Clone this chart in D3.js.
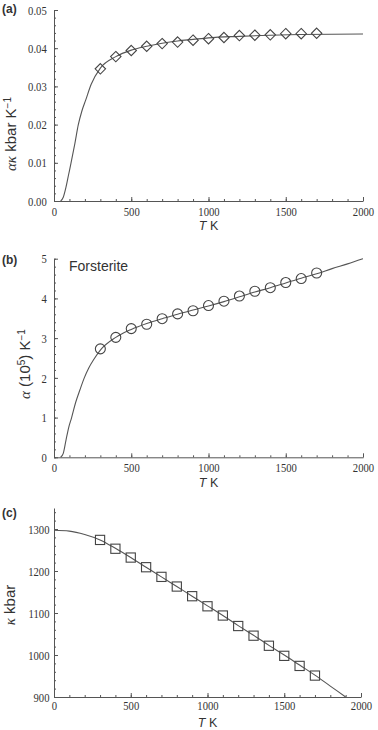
<!DOCTYPE html>
<html lang="en">
<head>
    <meta charset="UTF-8">
    <title>Forsterite</title>
    <script src="https://d3js.org/d3.v7.min.js"></script>
    <style>
        body {
            margin: 0;
            padding: 0;
            background: #fff;
        }
        .lbl {
            font-family: "Liberation Sans", Arial, sans-serif;
            fill: #333;
        }
    </style>
</head>
<body>
<div id="chart"></div>
<script>
    // measured temperatures (K)
    const tPoints = [300, 400, 500, 600, 700, 800, 900, 1000, 1100, 1200, 1300, 1400, 1500, 1600, 1700];

    // (a) alpha*kappa, kbar/K
    const akPoints = [0.0346, 0.0378, 0.0394, 0.0405, 0.0412, 0.0416, 0.0421, 0.0425, 0.0428, 0.0433, 0.0434, 0.0435, 0.0438, 0.0438, 0.0439];
    const akCurveT = [43, 60, 78, 95, 110, 135, 157, 180, 205, 240, 300, 400, 500, 600, 700, 800, 900, 1000, 1200, 1400, 1600, 2000];
    const akCurve = [0, 0.001, 0.0037, 0.007, 0.0099, 0.015, 0.0199, 0.0235, 0.0264, 0.0305, 0.0348, 0.0378, 0.0395, 0.0405, 0.0413, 0.0419, 0.0423, 0.0427, 0.0431, 0.0434, 0.0436, 0.0437];

    // (b) alpha (10^5) 1/K
    const alphaPoints = [2.73, 3.02, 3.24, 3.35, 3.49, 3.61, 3.69, 3.82, 3.93, 4.06, 4.18, 4.27, 4.40, 4.50, 4.64];
    const alphaCurveT = [43, 60, 78, 95, 114, 140, 168, 196, 225, 255, 300, 400, 500, 600, 700, 800, 900, 1000, 1100, 1200, 1300, 1400, 1500, 1600, 1700, 1800, 1900, 2000];
    const alphaCurve = [0, 0.1, 0.44, 0.75, 1.0, 1.38, 1.70, 2.0, 2.25, 2.45, 2.7, 3.02, 3.22, 3.37, 3.49, 3.60, 3.71, 3.81, 3.92, 4.04, 4.16, 4.27, 4.39, 4.51, 4.62, 4.75, 4.87, 5.0];

    // (c) kappa, kbar
    const kappaPoints = [1274, 1253, 1232, 1209, 1186, 1163, 1140, 1116, 1094, 1069, 1046, 1022, 998, 974, 951];
    const kappaCurveT = [0, 100, 200, 300, 400, 500, 600, 700, 800, 900, 1000, 1100, 1200, 1300, 1400, 1500, 1600, 1700, 1800, 1900];
    const kappaCurve = [1297, 1295, 1287, 1274, 1254, 1232, 1209, 1186, 1163, 1140, 1117, 1094, 1070, 1047, 1023, 1000, 976, 952, 926, 900];

    const xTicks = [0, 500, 1000, 1500, 2000];
    const xMinor = d3.range(0, 2001, 100);

    const W = 378, H = 730;
    const svg = d3.select("#chart").append("svg")
        .attr("width", W)
        .attr("height", H);

    const panels = [
        {
            tag: "(a)", tagY: 13,
            top: 10, bottom: 201, right: 363,
            yDomain: [0, 0.05],
            yTicks: [0, 0.01, 0.02, 0.03, 0.04, 0.05], yMinor: d3.range(0, 0.0501, 0.002),
            yFmt: d3.format(".2f"), yPad: 7.3,
            xPad: 5.5, xLabelY: 230,
            yLabelX: 16, yLabelY: 134,
            pts: akPoints, curveT: akCurveT, curve: akCurve, marker: "diamond"
        },
        {
            tag: "(b)", tagY: 264,
            top: 258.7, bottom: 457.3, right: 363,
            yDomain: [0, 5],
            yTicks: [0, 1, 2, 3, 4, 5], yMinor: d3.range(0, 5.01, 0.2),
            yFmt: d3.format("d"), yPad: 7.3,
            xPad: 5, xLabelY: 487,
            yLabelX: 30, yLabelY: 364,
            pts: alphaPoints, curveT: alphaCurveT, curve: alphaCurve, marker: "circle"
        },
        {
            tag: "(c)", tagY: 517,
            top: 508, bottom: 697, right: 361,
            yDomain: [900, 1350],
            yTicks: [900, 1000, 1100, 1200, 1300], yMinor: d3.range(900, 1351, 20),
            yFmt: d3.format("d"), yPad: 4.5,
            xPad: 4, xLabelY: 727,
            yLabelX: 15, yLabelY: 605,
            pts: kappaPoints, curveT: kappaCurveT, curve: kappaCurve, marker: "square"
        }
    ];

    const left = 54;
    const axisColor = "#555";
    const serif = '"Liberation Serif", "Times New Roman", serif';

    panels.forEach(p => {
        const x = d3.scaleLinear().domain([0, 2000]).range([left, p.right]);
        const y = d3.scaleLinear().domain(p.yDomain).range([p.bottom, p.top]);
        const g = svg.append("g");

        // minor ticks
        g.append("g")
            .attr("transform", `translate(0,${p.bottom})`)
            .call(d3.axisBottom(x).tickValues(xMinor).tickSize(-2).tickFormat(""))
            .call(a => a.select(".domain").remove());
        g.append("g")
            .attr("transform", `translate(${left},0)`)
            .call(d3.axisLeft(y).tickValues(p.yMinor).tickSize(-2).tickFormat(""))
            .call(a => a.select(".domain").remove());

        // major axes
        const xa = g.append("g")
            .attr("transform", `translate(0,${p.bottom})`)
            .call(d3.axisBottom(x).tickValues(xTicks).tickSize(-4).tickSizeOuter(0)
                .tickPadding(p.xPad).tickFormat(d3.format("d")));
        xa.selectAll(".tick text").attr("transform", "scale(0.82,1)");

        const ya = g.append("g")
            .attr("transform", `translate(${left},0)`)
            .call(d3.axisLeft(y).tickValues(p.yTicks).tickSize(-4).tickSizeOuter(0).tickFormat(p.yFmt));
        ya.selectAll(".tick text")
            .attr("x", -p.yPad / 0.82)
            .attr("transform", "scale(0.82,1)");

        g.selectAll(".domain, .tick line").attr("stroke", axisColor);
        g.selectAll(".tick text")
            .style("font-family", serif)
            .style("font-size", "13px")
            .style("fill", "#333");

        // curve
        const curveData = p.curveT.map((t, i) => ({ t: t, v: p.curve[i] }));
        g.append("path")
            .datum(curveData)
            .attr("fill", "none")
            .attr("stroke", "#555")
            .attr("stroke-width", 1.1)
            .attr("d", d3.line().x(d => x(d.t)).y(d => y(d.v)).curve(d3.curveMonotoneX));

        // markers
        const ptData = tPoints.map((t, i) => ({ t: t, v: p.pts[i] }));
        const mk = g.append("g").attr("fill", "none").attr("stroke", "#444").attr("stroke-width", 1.1);
        if (p.marker === "circle") {
            mk.selectAll("circle").data(ptData).enter().append("circle")
                .attr("cx", d => x(d.t)).attr("cy", d => y(d.v)).attr("r", 5);
        } else if (p.marker === "square") {
            mk.selectAll("rect").data(ptData).enter().append("rect")
                .attr("x", d => x(d.t) - 4.6).attr("y", d => y(d.v) - 4.6)
                .attr("width", 9.2).attr("height", 9.2);
        } else {
            mk.selectAll("path").data(ptData).enter().append("path")
                .attr("d", d => {
                    const cx = x(d.t), cy = y(d.v), r = 5.2;
                    return `M${cx},${cy - r}L${cx + r},${cy}L${cx},${cy + r}L${cx - r},${cy}Z`;
                });
        }

        // panel tag
        svg.append("text")
            .attr("class", "lbl")
            .attr("x", 2)
            .attr("y", p.tagY)
            .attr("font-size", 12)
            .attr("font-weight", "bold")
            .text(p.tag);

        // x label
        const xl = svg.append("text")
            .attr("class", "lbl")
            .attr("x", (left + p.right) / 2)
            .attr("y", p.xLabelY)
            .attr("text-anchor", "middle")
            .attr("font-size", 12.5);
        xl.append("tspan").attr("font-style", "italic").text("T");
        xl.append("tspan").text(" K");

        // y label
        const yl = svg.append("text")
            .attr("class", "lbl")
            .attr("transform", `translate(${p.yLabelX},${p.yLabelY}) rotate(-90)`)
            .attr("text-anchor", "middle")
            .attr("font-size", 15);
        if (p.tag === "(b)") {
            yl.append("tspan").attr("font-family", serif).attr("font-style", "italic").text("α");
            yl.append("tspan").text(" (10");
            yl.append("tspan").attr("font-size", 10).attr("dy", -5).text("5");
            yl.append("tspan").attr("dy", 5).text(") K");
            yl.append("tspan").attr("font-size", 10).attr("dy", -5).text("−1");
        } else if (p.tag === "(a)") {
            yl.append("tspan").attr("font-family", serif).attr("font-style", "italic").text("ακ");
            yl.append("tspan").text(" kbar K");
            yl.append("tspan").attr("font-size", 10).attr("dy", -5).text("−1");
        } else {
            yl.append("tspan").attr("font-family", serif).attr("font-style", "italic").text("κ");
            yl.append("tspan").text(" kbar");
        }
    });

    // annotation in panel (b)
    svg.append("text")
        .attr("class", "lbl")
        .attr("x", 69)
        .attr("y", 271)
        .attr("font-size", 14)
        .text("Forsterite");
</script>
</body>
</html>
